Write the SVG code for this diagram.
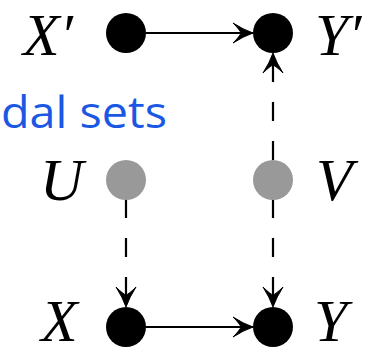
<svg xmlns="http://www.w3.org/2000/svg" width="385" height="349" viewBox="0 0 385 349">
<style>
.lbl{font-family:"Liberation Serif","DejaVu Serif",serif;font-style:italic;font-size:60px;fill:#000}
.blk{fill:#000}
.gry{fill:#999}
.edge{stroke:#000;stroke-width:2.2;fill:none}
.dash{stroke-dasharray:19 20}
.side{font-family:"Open Sans","Noto Sans",sans-serif;font-size:44px;fill:#1a58e4}
</style>
<defs>
<marker id="ah" markerUnits="userSpaceOnUse" markerWidth="26" markerHeight="26" viewBox="-22 -13 26 26" refX="0" refY="0" orient="auto">
<path d="M0,0 Q-10,-3.5 -20,-10 Q-13,-3 -12,0 Q-13,3 -20,10 Q-10,3.5 0,0 Z" fill="#000" stroke="#000" stroke-width="1" stroke-linejoin="round"/>
</marker>
</defs>
<text class="side" x="1" y="128" textLength="166" lengthAdjust="spacingAndGlyphs">dal sets</text>
<g id="connectors">
<path class="edge" d="M146,33 L253,33" marker-end="url(#ah)"/>
<path class="edge" d="M146,327 L253,327" marker-end="url(#ah)"/>
<path class="edge dash" d="M273,160 L273,53" marker-end="url(#ah)"/>
<path class="edge dash" d="M126,199 L126,307" marker-end="url(#ah)"/>
<path class="edge dash" d="M273,199 L273,307" marker-end="url(#ah)"/>
</g>
<g id="Xp"><circle class="blk" cx="126" cy="33" r="20"/><text class="lbl" x="23" y="55">X′</text></g>
<g id="Yp"><circle class="blk" cx="273" cy="33" r="20"/><text class="lbl" x="315" y="55">Y′</text></g>
<g id="U"><circle class="gry" cx="126" cy="180" r="20"/><text class="lbl" x="40" y="200">U</text></g>
<g id="V"><circle class="gry" cx="273" cy="180" r="20"/><text class="lbl" x="316" y="200">V</text></g>
<g id="X"><circle class="blk" cx="126" cy="327" r="20"/><text class="lbl" x="41" y="341">X</text></g>
<g id="Y"><circle class="blk" cx="273" cy="327" r="20"/><text class="lbl" x="314" y="341">Y</text></g>
</svg>
